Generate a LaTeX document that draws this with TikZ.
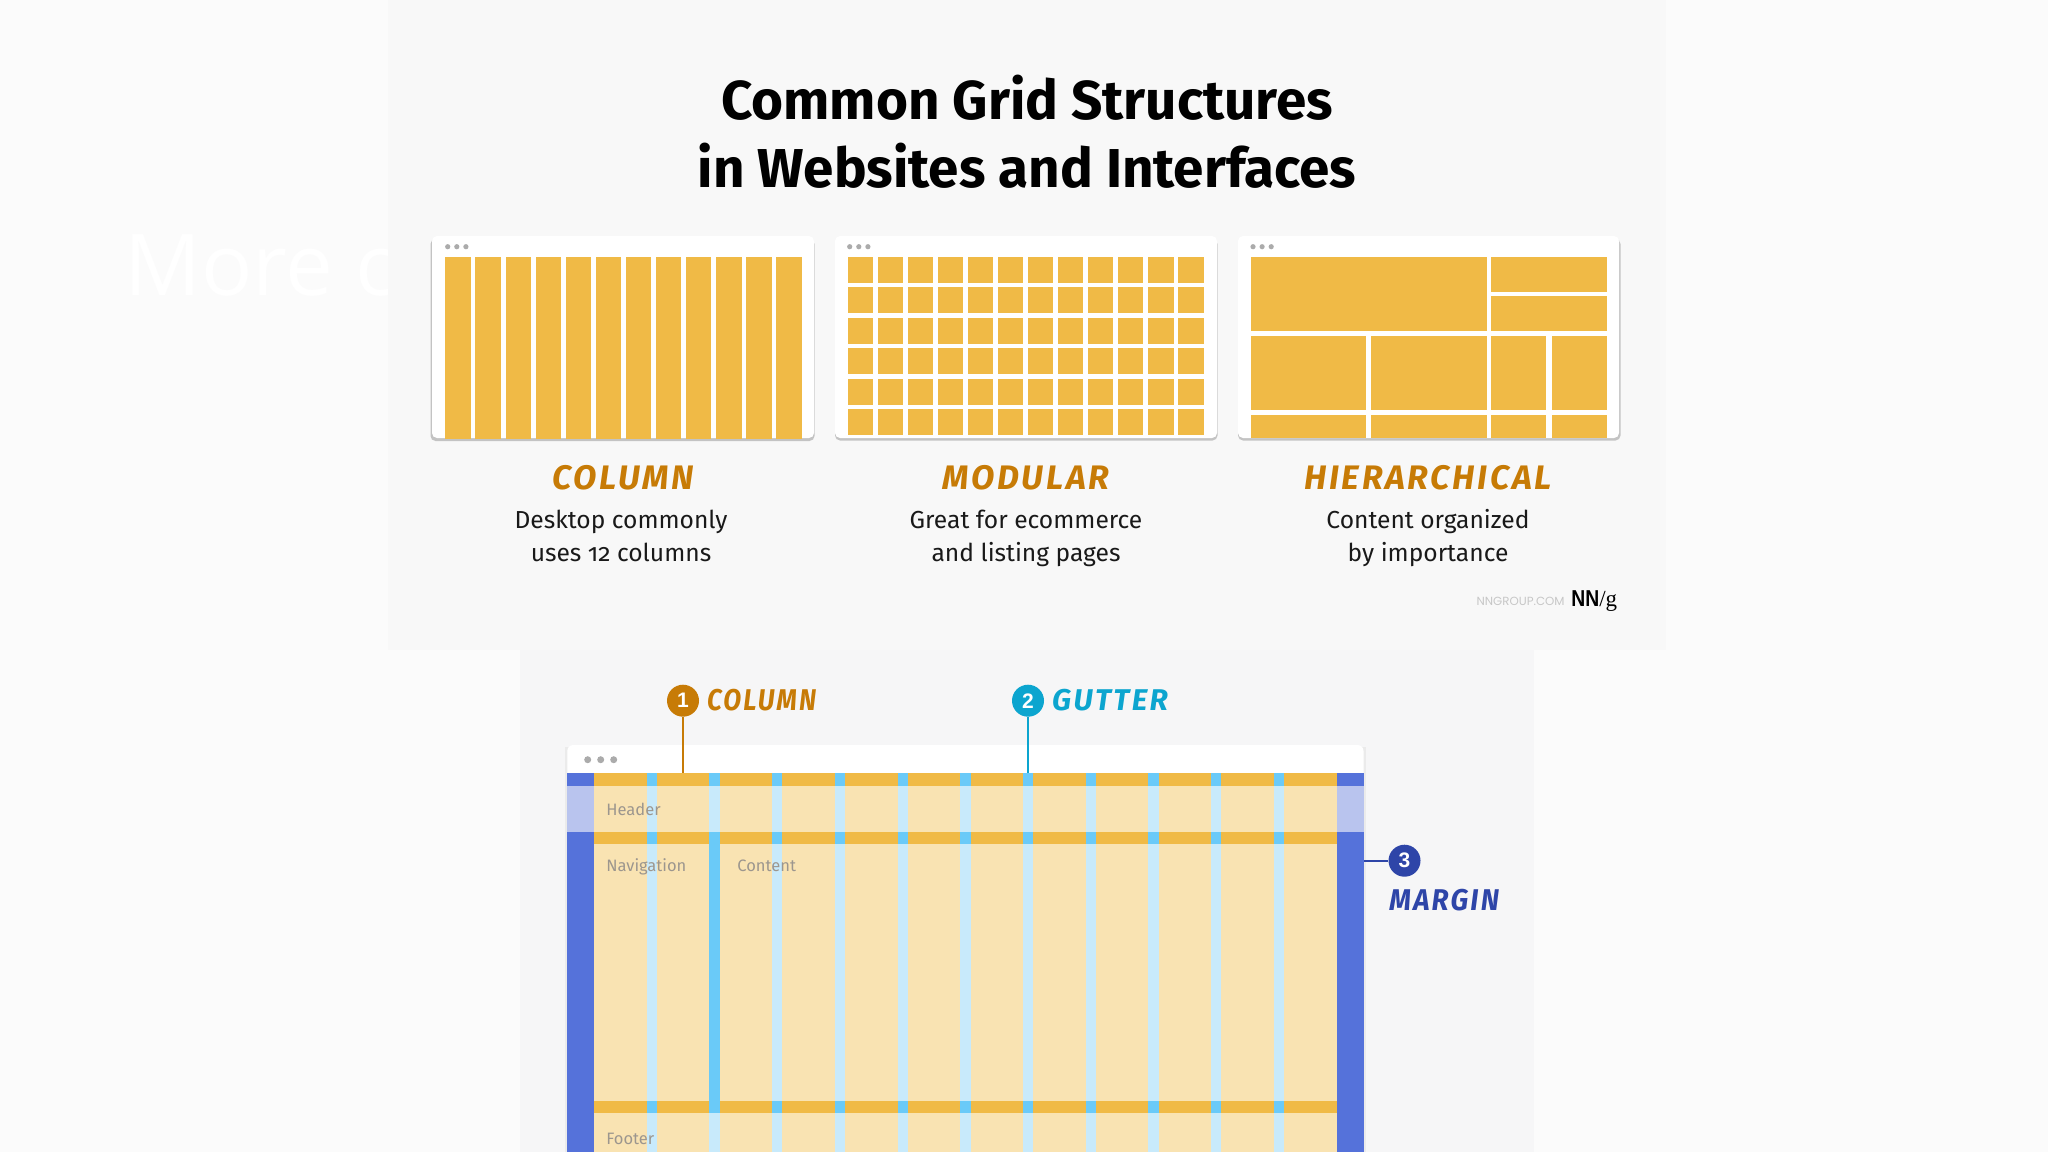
\documentclass[tikz,border=0pt]{standalone}
\usepackage{fontspec}
\setmainfont{Fira Sans}[Numbers=OldStyle]
\newfontfamily\handfont[LetterSpace=8]{Fira Sans}
\newfontfamily\ghostfont{Open Sans}
\newfontfamily\urlfont{Poppins}
\newfontfamily\logosans{Liberation Sans}
\newfontfamily\logoserif{Liberation Serif}
\definecolor{pagebg}{HTML}{FBFBFB}
\definecolor{panelA}{HTML}{F8F8F8}
\definecolor{panelB}{HTML}{F6F6F7}
\definecolor{gridor}{HTML}{F0BA46}
\definecolor{paleor}{HTML}{F9E3B2}
\definecolor{palebl}{HTML}{C8EAFB}
\definecolor{strongbl}{HTML}{6ACAF8}
\definecolor{margbl}{HTML}{5572DA}
\definecolor{palemarg}{HTML}{B9C4EE}
\definecolor{ochre}{HTML}{C77B06}
\definecolor{teal}{HTML}{0CA5CF}
\definecolor{navy}{HTML}{2E45A8}
\definecolor{dotgr}{HTML}{ABABAB}
\definecolor{wfgr}{HTML}{9C968E}
\tikzset{
  card/.style={fill=white,rounded corners=2.5pt},
  cardshadow/.style={fill=black!40,rounded corners=2.5pt,opacity=.55},
  block/.style={fill=gridor},
  dotmark/.style={circle,fill=dotgr,inner sep=0pt,minimum size=#1},
  cardtitle/.style={font=\handfont\bfseries\itshape\fontsize{17}{20}\selectfont,text=ochre},
  carddesc/.style={font=\fontsize{12.3}{16.3}\selectfont,align=center,text=black!90},
  wflabel/.style={font=\fontsize{8.25}{10}\selectfont,text=wfgr,anchor=base west,inner sep=0pt},
  badge/.style={circle,fill=#1,text=white,inner sep=0pt,minimum size=16pt,font=\logosans\bfseries\fontsize{10.5}{11}\selectfont},
  hand/.style={font=\handfont\bfseries\itshape\fontsize{15}{18}\selectfont,text=#1,anchor=west,inner sep=0pt},
  leader/.style={draw=#1,line width=1.1pt}
}
\begin{document}
\begin{tikzpicture}[x=0.5pt,y=-0.5pt]
\useasboundingbox (0,0) rectangle (2048,1152);
\fill[pagebg] (0,0) rectangle (2048,1152);
\fill[panelA] (388,0) rectangle (1666,650);
\fill[panelB] (520,650) rectangle (1534,1152);
% ghost text
\begin{scope}
\clip (0,150) rectangle (387,360);
\node[anchor=base west,inner sep=0pt,text=white,font=\ghostfont\fontsize{42.6}{50}\selectfont] (ghost) at (124,295) {More c};
\end{scope}
% title
\node[font=\bfseries\fontsize{27.4}{34}\selectfont,align=center,text=black] (title) at (1027,132) {Common Grid Structures\\in Websites and Interfaces};
% card 1
\fill[cardshadow] (430.5,239) rectangle (814.5,441);
\fill[card] (432,236) rectangle (814,438);
\foreach \i in {0,...,11} \fill[block] ({445.3+30.1*\i},257) rectangle ({470.6+30.1*\i},438.5);
\foreach \i in {0,1,2} \node[dotmark=2.6pt] (dota\i) at ({447.7+9.1*\i},246.7) {};
% card 2
\fill[cardshadow] (835,239) rectangle (1217.5,440.5);
\fill[card] (835,236) rectangle (1217,438);
\foreach \i in {0,...,11} \foreach \j in {0,...,5}
  \fill[block] ({847.7+30.05*\i},{257+30.4*\j}) rectangle ({873+30.05*\i},{283+30.4*\j});
\foreach \i in {0,1,2} \node[dotmark=2.6pt] (dotb\i) at ({849.7+9.1*\i},246.7) {};
% card 3
\fill[cardshadow] (1238,239) rectangle (1620.5,440.5);
\fill[card] (1238,236) rectangle (1619,438);
\fill[block] (1251,257) rectangle (1486.7,331);
\fill[block] (1491.3,257) rectangle (1607,292);
\fill[block] (1491.3,296.3) rectangle (1607,331);
\foreach \ya/\yb in {336.3/410,415/438}{
  \fill[block] (1251,\ya) rectangle (1366.3,\yb);
  \fill[block] (1371.3,\ya) rectangle (1486.7,\yb);
  \fill[block] (1491.3,\ya) rectangle (1546.3,\yb);
  \fill[block] (1551.7,\ya) rectangle (1607,\yb);
}
\foreach \i in {0,1,2} \node[dotmark=2.6pt] (dotc\i) at ({1253+9.1*\i},246.7) {};
% captions
\node[cardtitle] (t1) at (623,478) {COLUMN};
\node[cardtitle] (t2) at (1026,478) {MODULAR};
\node[cardtitle] (t3) at (1428,478) {HIERARCHICAL};
\node[carddesc] (d1) at (621,538.5) {\strut Desktop commonly\\\strut uses 12 columns};
\node[carddesc] (d2) at (1026,538.5) {\strut Great for ecommerce\\\strut and listing pages};
\node[carddesc] (d3) at (1428,538.5) {\strut Content organized\\\strut by importance};
% credit
\node[anchor=east,inner sep=0pt,text=black!22,font=\urlfont\fontsize{5.9}{7}\selectfont] (url) at (1565,601) {NNGROUP.COM};
\node[anchor=west,inner sep=0pt,text=black,font=\fontsize{11.5}{13}\selectfont] (logo) at (1571,601) {\scalebox{0.84}[1]{\logosans\bfseries NN}{\logoserif/g}};
% wireframe
\fill[black!8] (565,747) rectangle (1366,1152);
\fill[white,rounded corners=3pt] (567.3,745) rectangle (1363.5,790);
\foreach \i in {0,1,2} \node[dotmark=3.5pt] (dotw\i) at ({587.7+13*\i},759.7) {};
\fill[margbl] (567.3,773.3) rectangle (594.3,1152);
\fill[margbl] (1336.5,773.3) rectangle (1363.5,1152);
\fill[palemarg] (567.3,786) rectangle (594.3,831.7);
\fill[palemarg] (1336.5,786) rectangle (1363.5,831.7);
\fill[paleor] (594.3,773.3) rectangle (1336.5,1152);
\foreach \i in {0,...,10} \fill[palebl] ({646.7+62.7*\i},773.3) rectangle ({657+62.7*\i},1152);
\fill[strongbl] (709.4,844) rectangle (719.7,1152);
\fill[palebl] (709.4,1112.7) rectangle (719.7,1152);
\foreach \ya/\yb in {773.3/786,831.7/844,1100.7/1112.7}{
  \fill[gridor] (594.3,\ya) rectangle (1336.5,\yb);
  \foreach \i in {0,...,10} \fill[strongbl] ({646.7+62.7*\i},\ya) rectangle ({657+62.7*\i},\yb);
}
\node[wflabel] (wh) at (606,815.7) {Header};
\node[wflabel] (wn) at (606,871.7) {Navigation};
\node[wflabel] (wc) at (737,871.7) {Content};
\node[wflabel] (wf) at (606,1144) {Footer};
% callouts
\coordinate (c1end) at (683,773.3);
\coordinate (c2end) at (1028,773.3);
\coordinate (c3end) at (1363.5,860.7);
\node[badge=ochre] (b1) at (683,700.7) {1};
\node[badge=teal] (b2) at (1028,700.7) {2};
\node[badge=navy] (b3) at (1404.5,860.7) {3};
\draw[leader=ochre] (b1) -- (c1end);
\draw[leader=teal] (b2) -- (c2end);
\draw[leader=navy] (b3) -- (c3end);
\node[hand=ochre] (l1) at (706.7,700) {\scalebox{0.87}[1]{COLUMN}};
\node[hand=teal] (l2) at (1051.7,700) {GUTTER};
\node[hand=navy] (l3) at (1389,900) {\scalebox{0.93}[1]{MARGIN}};
\end{tikzpicture}
\end{document}
